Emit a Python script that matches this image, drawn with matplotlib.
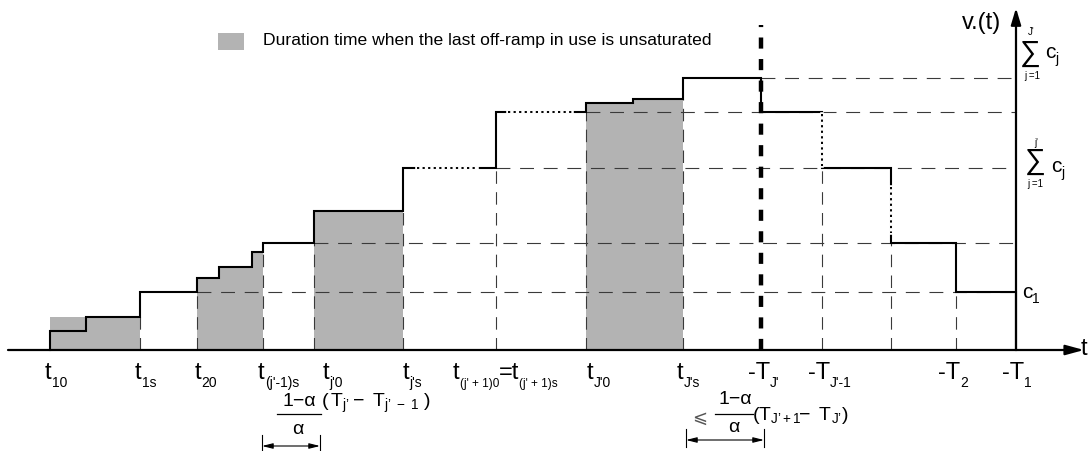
import matplotlib

matplotlib.use("Agg")

import matplotlib.pyplot as plt
from matplotlib.patches import Rectangle

plt.rcParams["font.family"] = ["Liberation Sans", "DejaVu Sans"]
plt.rcParams["mathtext.fontset"] = "custom"
plt.rcParams["mathtext.rm"] = "Liberation Sans"
plt.rcParams["mathtext.it"] = "Liberation Sans"
plt.rcParams["mathtext.default"] = "regular"
plt.rcParams["lines.scale_dashes"] = False

# v.(t) profile: breakpoints on t and the level held until the next breakpoint
step_t = [50, 86, 140, 197, 219, 252, 263, 314, 403, 496, 586, 633, 683, 761, 822, 891, 956, 1016]
step_v = [19, 33, 58, 72, 83, 98, 107, 139, 182, 238, 247, 251, 272, 238, 182, 107, 58]

# spans where the last off-ramp in use is unsaturated
shade_spans = [(50, 140), (197, 263), (314, 403), (586, 683)]
first_span_top = 33

# cumulative capacity levels and where their guide lines start
ref_levels = [58, 107, 182, 238, 272]
ref_start = [197, 314, 496, 586, 761]

# dotted pieces of the profile (t0, v0, t1, v1)
dotted_parts = [(417, 182, 477, 182), (508, 238, 572, 238), (822, 236, 822, 184), (891, 163, 891, 117)]

# position of -T_J' (thick dashed marker)
t_marker = 761
marker_top = 325

tick_t = [50, 140, 197, 263, 314, 403, 496, 586, 683, 761, 822, 956, 1016]
# each label: list of (text, is_subscript)
tick_labels = [
    [("t", 0), ("10", 1)],
    [("t", 0), ("1s", 1)],
    [("t", 0), ("20", 1)],
    [("t", 0), ("(j'-1)s", 1)],
    [("t", 0), ("j'0", 1)],
    [("t", 0), ("j's", 1)],
    [("t", 0), ("(j' + 1)0", 2), ("=t", 0), ("(j' + 1)s", 2)],
    [("t", 0), ("J'0", 1)],
    [("t", 0), ("J's", 1)],
    [("-T", 0), ("J'", 1)],
    [("-T", 0), ("J'-1", 1)],
    [("-T", 0), ("2", 1)],
    [("-T", 0), ("1", 1)],
]
label_dx = [-5, -5, -2, -5, 9, 0, -43, 1, -6, -13, -14, -18, -14]

GRAY = "#b3b3b3"
GUIDE = "#3a3a3a"

fig = plt.figure(figsize=(10.91, 4.51), dpi=100)
ax = fig.add_axes([0, 0, 1, 1])
ax.set_xlim(0, 1091)
ax.set_ylim(-101, 350)
ax.set_axis_off()
renderer = fig.canvas.get_renderer()


def level_at(t):
    for i in range(len(step_v)):
        if step_t[i] <= t < step_t[i + 1]:
            return step_v[i]
    return 0


def chain(x, y, parts, size=17, sub_sizes=(10, 8.5), drop=8):
    # main text followed by lowered subscripts, placed one after another
    for txt, sub in parts:
        fs = size if sub == 0 else sub_sizes[sub - 1]
        yy = y if sub == 0 else y - drop
        t = ax.text(x, yy, txt, fontsize=fs, ha="left", va="baseline")
        x += t.get_window_extent(renderer=renderer).width
    return x


# shaded areas
t0, t1 = shade_spans[0]
ax.fill_between([t0, t1], 0, first_span_top, color=GRAY, lw=0, zorder=1)
for t0, t1 in shade_spans[1:]:
    xs = [t for t in step_t if t0 <= t <= t1]
    ys = [level_at(t) for t in xs[:-1]] + [level_at(xs[-2])]
    ax.fill_between(xs, 0, ys, step="post", color=GRAY, lw=0, zorder=1)

# horizontal guides
for lv, st in zip(ref_levels, ref_start):
    ax.plot([st, 1016], [lv, lv], color=GUIDE, lw=0.8, dashes=(10, 7), zorder=2)

# vertical guides from the axis to the lower of the two adjacent levels
for i in range(1, len(step_t) - 1):
    t = step_t[i]
    if t in (86, 219, 252, 633, t_marker):
        continue
    ax.plot([t, t], [0, min(step_v[i - 1], step_v[i])], color=GUIDE, lw=0.8,
            dashes=(9, 6), zorder=2)

# profile
xs = [step_t[0]]
ys = [0]
for i, lv in enumerate(step_v):
    xs += [step_t[i], step_t[i + 1]]
    ys += [lv, lv]
xs.append(step_t[-1])
ys.append(0)
ax.plot(xs, ys, color="black", lw=1.5, zorder=3, solid_joinstyle="miter")

for a, b, c, d in dotted_parts:
    ax.plot([a, c], [b, d], color="white", lw=2.6, zorder=4)
    ax.plot([a, c], [b, d], color="black", lw=1.4, dashes=(1.6, 2.4), zorder=4)

# thick dashed marker at -T_J'
ax.plot([t_marker, t_marker], [0, marker_top], color="black", lw=3.2, dashes=(8, 7.5), zorder=5)

# axes
ax.annotate("", xy=(1084, 0), xytext=(8, 0),
            arrowprops=dict(arrowstyle="-|>,head_length=1.1,head_width=0.3", lw=1.6,
                            color="black", mutation_scale=10, shrinkA=0, shrinkB=0), zorder=6)
ax.annotate("", xy=(1016, 342), xytext=(1016, 0),
            arrowprops=dict(arrowstyle="-|>,head_length=1.0,head_width=0.3", lw=1.6,
                            color="black", mutation_scale=10, shrinkA=0, shrinkB=0), zorder=6)
ax.text(1081, 1, "t", fontsize=17, va="center", ha="left")
ax.text(962, 327, "v.(t)", fontsize=17, va="center", ha="left")

# tick labels
for t, parts, dx in zip(tick_t, tick_labels, label_dx):
    chain(t + dx, -29, parts)

# right-hand capacity labels
ax.text(1020, 297, "∑", fontsize=21, ha="left", va="center")
ax.text(1031, 318, "J'", fontsize=7, ha="center", va="center")
ax.text(1032, 274, "j =1", fontsize=7, ha="center", va="center")
chain(1045, 292, [("c", 0), ("j", 1)], size=15, sub_sizes=(10, 10), drop=5)

ax.text(1025, 189, "∑", fontsize=21, ha="left", va="center")
ax.text(1036, 207, "j'", fontsize=7, ha="center", va="center")
ax.text(1035, 166, "j =1", fontsize=7, ha="center", va="center")
chain(1051, 178, [("c", 0), ("j", 1)], size=15, sub_sizes=(10, 10), drop=5)

chain(1022, 52, [("c", 0), ("1", 1)], size=15, sub_sizes=(10, 10), drop=5)

# fraction annotations
ax.text(299, -51, "1−α", fontsize=14, ha="center", va="center")
ax.plot([277, 321], [-64, -64], color="black", lw=0.9)
ax.text(298, -79, "α", fontsize=14, ha="center", va="center")
ax.text(321, -53, r"$(\,T_{j'}-\ T_{j'\ -\ 1}\ )$".replace("'", "’"), fontsize=14,
        ha="left", va="center")

ax.text(700, -68, "⩽", fontsize=13, ha="center", va="center", color="#555555")
ax.text(735, -50, "1−α", fontsize=14, ha="center", va="center")
ax.plot([715, 753], [-64, -64], color="black", lw=0.9)
ax.text(734, -78, "α", fontsize=14, ha="center", va="center")
ax.text(752, -66, r"$(T_{J'+1}\!\!-\ T_{J'})$".replace("'", "’"), fontsize=14,
        ha="left", va="center")

# interval arrows
for xa, xb, ya, y0, y1 in [(262, 320, -96, -85, -100), (686, 764, -90, -79, -97)]:
    ax.annotate("", xy=(xb, ya), xytext=(xa, ya),
                arrowprops=dict(arrowstyle="<|-|>,head_length=0.8,head_width=0.2", lw=0.8,
                                color="black", mutation_scale=8, shrinkA=0, shrinkB=0))
    ax.plot([xa, xa], [y0, y1], color="black", lw=0.8)
    ax.plot([xb, xb], [y0, y1], color="black", lw=0.8)

# legend
ax.add_patch(Rectangle((218, 300), 26, 17, color=GRAY, lw=0))
ax.text(263, 309, "Duration time when the last off-ramp in use is unsaturated",
        fontsize=12.6, ha="left", va="center")

fig.savefig("out.png", dpi=100)
